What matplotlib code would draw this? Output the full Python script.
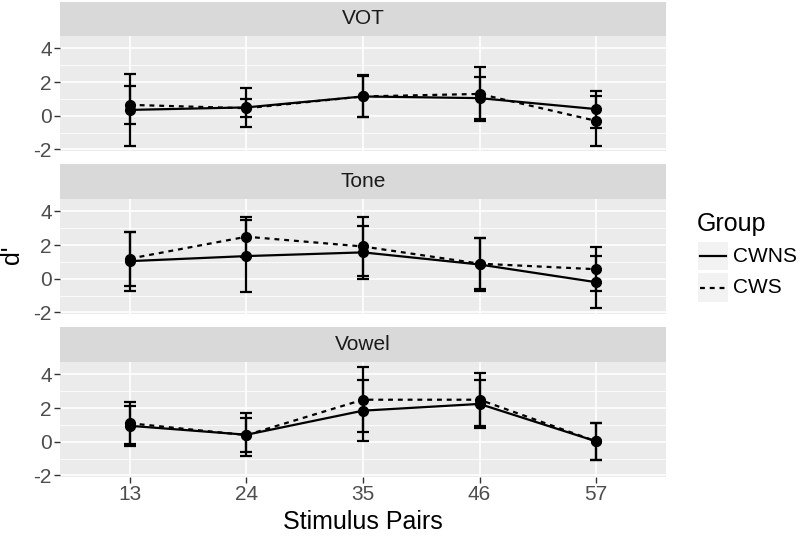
import matplotlib
matplotlib.use("Agg")
import matplotlib.pyplot as plt
from matplotlib.patches import Rectangle
from matplotlib.lines import Line2D
import numpy as np

plt.rcParams['font.family'] = ['Liberation Sans', 'DejaVu Sans']
plt.rcParams['axes.unicode_minus'] = False

pairs = ['13', '24', '35', '46', '57']
conditions = ['VOT', 'Tone', 'Vowel']
groups = ['CWNS', 'CWS']

# mean d' and error half-widths
vot_cwns = [0.35, 0.5, 1.15, 1.05, 0.4]
vot_cwns_err = [2.15, 1.15, 1.25, 1.25, 1.1]
vot_cws = [0.65, 0.45, 1.15, 1.3, -0.3]
vot_cws_err = [1.15, 0.55, 1.22, 1.6, 1.5]

tone_cwns = [1.05, 1.35, 1.57, 0.85, -0.2]
tone_cwns_err = [1.75, 2.12, 1.56, 1.6, 1.55]
tone_cws = [1.2, 2.5, 1.92, 0.9, 0.57]
tone_cws_err = [1.6, 1.2, 1.78, 1.5, 1.3]

vowel_cwns = [0.95, 0.42, 1.85, 2.25, 0.03]
vowel_cwns_err = [1.2, 1.28, 1.8, 1.41, 1.09]
vowel_cws = [1.1, 0.4, 2.5, 2.5, 0.03]
vowel_cws_err = [1.25, 1.0, 1.94, 1.58, 1.09]

cwns_all = [(vot_cwns, vot_cwns_err), (tone_cwns, tone_cwns_err), (vowel_cwns, vowel_cwns_err)]
cws_all = [(vot_cws, vot_cws_err), (tone_cws, tone_cws_err), (vowel_cws, vowel_cws_err)]

W, H = 800, 536
fig = plt.figure(figsize=(W / 100, H / 100), dpi=100)


def px(x0, y0, x1, y1):
    # pixel box (top-left origin) -> figure fraction rect
    return [x0 / W, 1 - y1 / H, (x1 - x0) / W, (y1 - y0) / H]


panel_y = [(36, 151), (199, 314), (362, 477)]
strip_y = [(2, 36), (164, 199), (327, 362)]
x0, x1 = 60, 666
tick_col = '#4D4D4D'
dash = (0, (2.2, 2.2))
lw = 1.6

xs = np.arange(1, len(pairs) + 1)

for i, cond in enumerate(conditions):
    s = fig.add_axes(px(x0, strip_y[i][0], x1, strip_y[i][1]))
    s.set_facecolor('#D9D9D9')
    s.set_xticks([])
    s.set_yticks([])
    for sp in s.spines.values():
        sp.set_visible(False)
    s.text(0.5, 0.5, cond, ha='center', va='center', fontsize=15, color='#1A1A1A',
           transform=s.transAxes)

    ax = fig.add_axes(px(x0, panel_y[i][0], x1, panel_y[i][1]))
    ax.set_facecolor('#EBEBEB')
    for sp in ax.spines.values():
        sp.set_visible(False)
    ax.set_xlim(0.4, 5.6)
    ax.set_ylim(-2.09, 4.74)
    ax.set_yticks([-2, 0, 2, 4])
    ax.set_yticklabels(['-2', '0', '2', '4'])
    ax.set_yticks([-1, 1, 3], minor=True)
    ax.set_xticks(xs)
    ax.grid(which='major', color='white', lw=1.2)
    ax.grid(which='minor', axis='y', color='white', lw=0.6)
    ax.set_axisbelow(True)
    ax.tick_params(axis='y', which='minor', length=0)
    ax.tick_params(axis='both', which='major', length=4, width=1, color='#333333',
                   labelsize=15, labelcolor=tick_col, pad=2)
    if i < 2:
        ax.tick_params(axis='x', length=0, labelbottom=False)
    else:
        ax.set_xticklabels(pairs)

    m, e = cwns_all[i]
    ax.errorbar(xs, m, yerr=e, fmt='none', ecolor='black', elinewidth=lw, capsize=4.5,
                capthick=lw, zorder=3)
    ax.plot(xs, m, color='black', lw=lw, ls='-', zorder=4)
    ax.plot(xs, m, 'o', color='black', ms=7, zorder=5)

    m, e = cws_all[i]
    ax.errorbar(xs, m, yerr=e, fmt='none', ecolor='black', elinewidth=lw, capsize=4.5,
                capthick=lw, zorder=3)
    ax.plot(xs, m, color='black', lw=lw, ls=dash, zorder=4)
    ax.plot(xs, m, 'o', color='black', ms=7, zorder=5)

fig.text(x0 / W + (x1 - x0) / W / 2, 1 - 522 / H, 'Stimulus Pairs', ha='center', va='center',
         fontsize=18, color='black')
fig.text(12 / W, 1 - 255 / H, "d'", ha='center', va='center', rotation=90,
         fontsize=18, color='black')

# legend with grey keys like ggplot
fig.text(697 / W, 1 - 224 / H, 'Group', ha='left', va='center', fontsize=18, color='black')
styles = ['-', dash]
key_y = [(242, 270), (273, 302)]
for g, st, (ky0, ky1) in zip(groups, styles, key_y):
    fig.patches.append(Rectangle((698 / W, 1 - ky1 / H), 30 / W, (ky1 - ky0) / H,
                                 transform=fig.transFigure, facecolor='#F2F2F2',
                                 edgecolor='none'))
    yc = 1 - (ky0 + ky1) / 2 / H
    fig.lines.append(Line2D([700 / W, 726 / W], [yc, yc], transform=fig.transFigure,
                            color='black', lw=lw, ls=st))
    fig.text(733 / W, yc, g, ha='left', va='center', fontsize=15, color='black')

fig.savefig('out.png', dpi=100)
